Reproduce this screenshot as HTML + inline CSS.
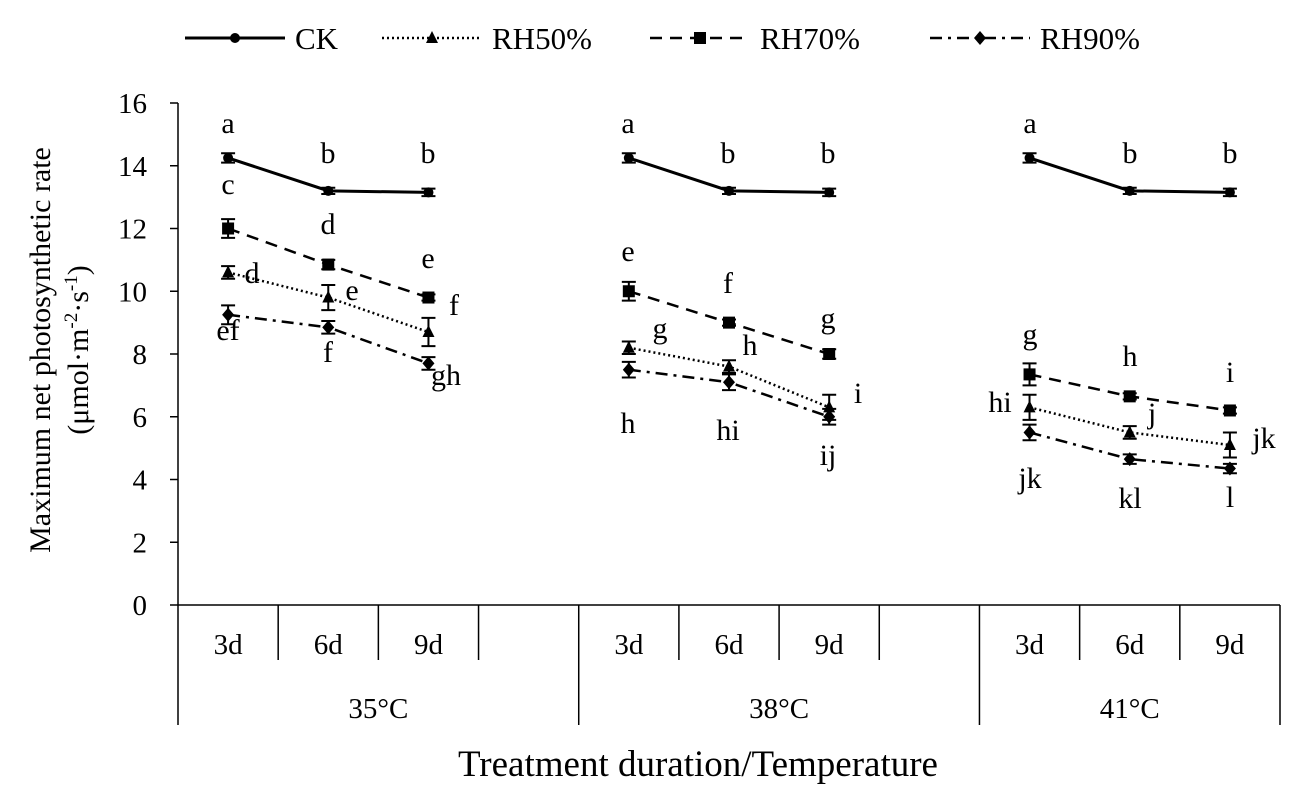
<!DOCTYPE html>
<html><head><meta charset="utf-8"><style>
body{margin:0;background:#fff}
svg text{font-family:"Liberation Serif",serif;fill:#000}
</style></head><body>
<svg id="c" width="1299" height="791" xmlns="http://www.w3.org/2000/svg"></svg>
<script>
const categories=["3d","6d","9d"];
const groups=["35°C","38°C","41°C"];
const yTicks=[0,2,4,6,8,10,12,14,16];
const ck=[[14.25,13.2,13.15],[14.25,13.2,13.15],[14.25,13.2,13.15]];
const rh70=[[12.0,10.85,9.8],[10.0,9.0,8.0],[7.35,6.65,6.2]];
const rh50=[[10.6,9.8,8.7],[8.2,7.6,6.3],[6.3,5.5,5.1]];
const rh90=[[9.25,8.85,7.7],[7.5,7.1,6.0],[5.5,4.65,4.35]];
const ckErr=[[0.15,0.1,0.12],[0.15,0.1,0.12],[0.15,0.1,0.12]];
const rh70Err=[[0.3,0.15,0.1],[0.3,0.1,0.15],[0.35,0.1,0.1]];
const rh50Err=[[0.2,0.4,0.45],[0.2,0.2,0.4],[0.4,0.2,0.4]];
const rh90Err=[[0.3,0.2,0.2],[0.25,0.25,0.25],[0.25,0.15,0.15]];
const letters=[["a",228,133],["b",328,163],["b",428,163],["c",228,194],["d",328,234],["e",428,268],["d",252,283],["e",352,300],["f",454,315],["ef",228,340],["f",328,362],["gh",446,385],
["a",628,133],["b",728,163],["b",828,163],["e",628,261],["f",728,293],["g",828,328],["g",660,338],["h",750,355],["i",858,403],["h",628,433],["hi",728,440],["ij",828,465],
["a",1030,133],["b",1130,163],["b",1230,163],["g",1030,344],["h",1130,366],["i",1230,382],["hi",1000,412],["j",1152,423],["jk",1264,448],["jk",1030,488],["kl",1130,508],["l",1230,507]];
const svg=document.getElementById('c');const NS="http://www.w3.org/2000/svg";
function el(t,a,p){const e=document.createElementNS(NS,t);for(const k in a)e.setAttribute(k,a[k]);(p||svg).appendChild(e);return e;}
const X0=178,X1=1280,Y0=605,Y16=103,slot=(X1-X0)/11;
const y=v=>Y0-(v/16)*(Y0-Y16);
const x=(g,i)=>X0+slot*(g*4+i+0.5);
let e=el('line',{x1:X0,y1:Y16,x2:X0,y2:Y0,stroke:'#000','stroke-width':1.5});

yTicks.forEach(t=>{el('line',{x1:170,x2:X0,y1:y(t),y2:y(t),stroke:'#000','stroke-width':1.5});
 e=el('text',{x:147,y:y(t)+10,'text-anchor':'end','font-size':29});e.textContent=t;
 });
e=el('line',{x1:X0,y1:Y0,x2:X1,y2:Y0,stroke:'#000','stroke-width':1.5});

for(let s=0;s<=11;s++){const xx=X0+slot*s;const big=(s==0||s==4||s==8||s==11);
 el('line',{x1:xx,x2:xx,y1:Y0,y2:big?725:660,stroke:'#000','stroke-width':1.5});}
groups.forEach((g,gi)=>{categories.forEach((c,i)=>{e=el('text',{x:x(gi,i),y:654,'text-anchor':'middle','font-size':29});e.textContent=c;
 });
 const cx=gi<2?X0+slot*(gi*4+2):X0+slot*(8+1.5);
 e=el('text',{x:cx,y:718,'text-anchor':'middle','font-size':29});e.textContent=g;
 });
e=el('text',{x:698,y:776,'text-anchor':'middle','font-size':37});e.textContent='Treatment duration/Temperature';

const yt=el('text',{transform:'translate(50,350) rotate(-90)','text-anchor':'middle','font-size':30});

yt.innerHTML='<tspan x="0" y="0">Maximum net photosynthetic rate</tspan><tspan x="0" y="38">(μmol·m</tspan><tspan dy="-11" font-size="19">-2</tspan><tspan dy="11">·s</tspan><tspan dy="-11" font-size="19">-1</tspan><tspan dy="11">)</tspan>';
function marker(m,cx,cy,p){if(m=='c')return el('circle',{cx,cy,r:5,fill:'#000'},p);
 if(m=='t')return el('polygon',{points:`${cx},${cy-7} ${cx-6},${cy+5} ${cx+6},${cy+5}`,fill:'#000'},p);
 if(m=='s')return el('rect',{x:cx-6,y:cy-6,width:12,height:12,fill:'#000'},p);
 return el('polygon',{points:`${cx},${cy-7} ${cx+6},${cy} ${cx},${cy+7} ${cx-6},${cy}`,fill:'#000'},p);}
const series=[[ck,ckErr,'c','','CK'],[rh50,rh50Err,'t','2,3','RH50%'],[rh70,rh70Err,'s','12,8','RH70%'],[rh90,rh90Err,'d','12,6,3,6','RH90%']];
series.forEach(([d,er,m,dash,name])=>{const g=el('g',{});
 d.forEach((vals,gi)=>{const pts=vals.map((v,i)=>x(gi,i)+','+y(v)).join(' ');
  el('polyline',{points:pts,fill:'none',stroke:'#000','stroke-width':m=='c'?3:2.5,'stroke-dasharray':dash},g);
  vals.forEach((v,i)=>{const cx=x(gi,i),a=y(v+er[gi][i]),b=y(v-er[gi][i]);
   el('path',{d:`M${cx-7},${a}H${cx+7}M${cx},${a}V${b}M${cx-7},${b}H${cx+7}`,stroke:'#000','stroke-width':2,fill:'none'},g);
   const mk=marker(m,cx,y(v),g);});});});
letters.forEach(([t,lx,ly])=>{e=el('text',{x:lx,y:ly,'text-anchor':'middle','font-size':30});e.textContent=t;
 });
const lg=[[185,'c','','CK'],[382,'t','2,3','RH50%'],[650,'s','12,8','RH70%'],[930,'d','12,6,3,6','RH90%']];
lg.forEach(([lx,m,dash,name])=>{const g=el('g',{});
 el('line',{x1:lx,x2:lx+100,y1:38,y2:38,stroke:'#000','stroke-width':m=='c'?3:2.5,'stroke-dasharray':dash},g);
 marker(m,lx+50,38,g);const t=el('text',{x:lx+110,y:49,'font-size':31},g);t.textContent=name;});
</script></body></html>
